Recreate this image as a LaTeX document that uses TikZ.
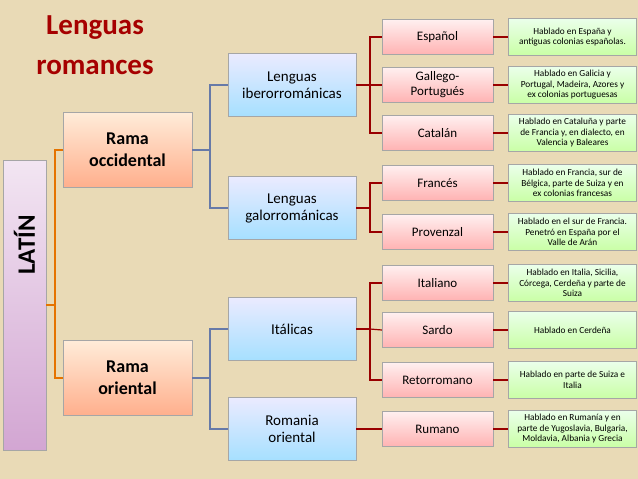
\documentclass[tikz,border=0pt]{standalone}
\usepackage{fontspec}
\setmainfont{Carlito}
\definecolor{bgtan}{RGB}{233,218,182}
\begin{document}
\begin{tikzpicture}[x=1pt,y=-1pt,
 bx/.style={draw=gray!70,minimum height=#1,align=center,inner sep=1pt},
 occ/.style={bx=75,minimum width=129,top color=orange!15,bottom color=orange!60!red!45,font=\bfseries\fontsize{18}{22}\selectfont},
 blu/.style={bx=63,minimum width=128,top color=blue!8,bottom color=blue!35!cyan!35,font=\fontsize{15}{17}\selectfont},
 pnk/.style={bx=35,minimum width=111,top color=red!6,bottom color=red!30,font=\fontsize{13}{15}\selectfont},
 grn/.style={bx=37,minimum width=128,top color=green!8,bottom color=green!60!yellow!35,font=\fontsize{9.3}{10.5}\selectfont},
 oc/.style={draw=orange!90!black,line width=1.2pt},
 bc/.style={draw=cyan!40!blue!50!gray,line width=1.2pt},
 rc/.style={draw=red!60!black,line width=1.2pt}]
\fill[bgtan] (0,0) rectangle (638,479);
\useasboundingbox (0,0) rectangle (638,479);
\node[text=red!65!black,font=\bfseries\fontsize{29}{40}\selectfont,align=center] (title) at (95,45) {Lenguas\\romances};
\node[draw=gray!70,minimum width=43,minimum height=290,top color=violet!10,bottom color=violet!35,inner sep=0] (lat) at (24.5,305) {};
\node[rotate=90,font=\bfseries\fontsize{25}{27}\selectfont] (latt) at (24.5,245) {LATÍN};
\node[occ] (ro) at (127.5,150) {Rama\\occidental};
\node[occ] (rr) at (127.5,378) {Rama\\oriental};
\coordinate (j0) at (55,305);
\draw[oc] (lat.east) -- (j0);
\draw[oc] (ro.west) -| (j0) |- (rr.west);
\node[blu] (ib) at (292,85) {Lenguas\\iberorrománicas};
\node[blu] (ga) at (292,208) {Lenguas\\galorrománicas};
\node[blu] (it) at (292,329) {Itálicas};
\node[blu] (ro2) at (292,429) {Romania\\oriental};
\coordinate (j1) at (210,150);
\draw[bc] (ro.east) -- (j1); \draw[bc] (ib.west) -| (j1) |- (ga.west);
\coordinate (j2) at (210,378);
\draw[bc] (rr.east) -- (j2); \draw[bc] (it.west) -| (j2) |- (ro2.west);
\foreach \n/\y/\t in {es/37/Español,gp/85/{Gallego-\\Portugués},ca/133/Catalán,fr/183/Francés,pr/232/Provenzal,ita/283/Italiano,sa/330/Sardo,re/380/Retorromano,ru/429/Rumano}
 \node[pnk] (\n) at (437.5,\y) {\t};
\node[grn] (ges) at (572.5,37) {Hablado en España y\\antiguas colonias españolas.};
\node[grn] (ggp) at (572.5,85) {Hablado en Galicia y\\Portugal, Madeira, Azores y\\ex colonias portuguesas};
\node[grn] (gca) at (572.5,133) {Hablado en Cataluña y parte\\de Francia y, en dialecto, en\\Valencia y Baleares};
\node[grn] (gfr) at (572.5,183) {Hablado en Francia, sur de\\Bélgica, parte de Suiza y en\\ex colonias francesas};
\node[grn] (gpr) at (572.5,232) {Hablado en el sur de Francia.\\Penetró en España por el\\Valle de Arán};
\node[grn] (gita) at (572.5,283) {Hablado en Italia, Sicilia,\\Córcega, Cerdeña y parte de\\Suiza};
\node[grn] (gsa) at (572.5,330) {Hablado en Cerdeña};
\node[grn] (gre) at (572.5,380) {Hablado en parte de Suiza e\\Italia};
\node[grn] (gru) at (572.5,429) {Hablado en Rumanía y en\\parte de Yugoslavia, Bulgaria,\\Moldavia, Albania y Grecia};
\foreach \n in {es,gp,ca,fr,pr,ita,sa,re,ru} \draw[rc] (\n.east) -- (g\n.west);
\coordinate (k1) at (370,85); \draw[rc] (ib.east) -- (k1); \draw[rc] (es.west) -| (k1) |- (ca.west); \draw[rc] (gp.west) -- (k1);
\coordinate (k2) at (370,208); \draw[rc] (ga.east) -- (k2); \draw[rc] (fr.west) -| (k2) |- (pr.west);
\coordinate (k3) at (370,329); \draw[rc] (it.east) -- (k3); \draw[rc] (ita.west) -| (k3) |- (re.west); \draw[rc] (sa.west) -- (k3);
\draw[rc] (ro2.east) -- (ru.west);
\end{tikzpicture}
\end{document}
